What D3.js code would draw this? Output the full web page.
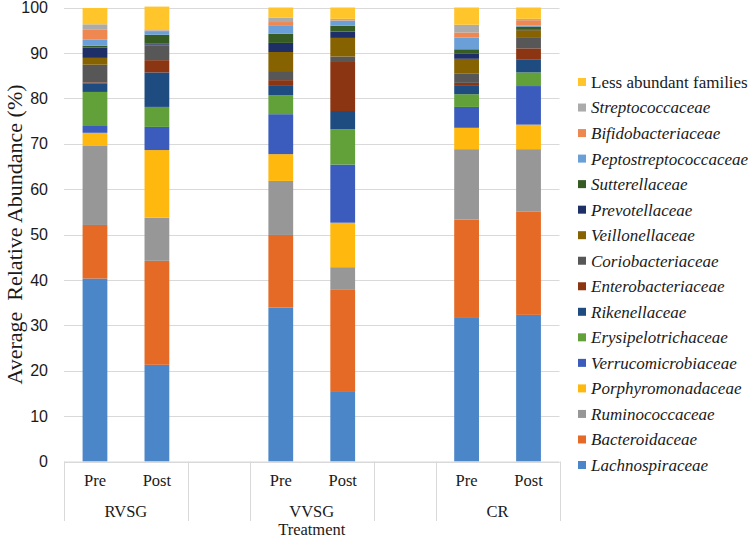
<!DOCTYPE html>
<html>
<head>
<meta charset="utf-8">
<script src="https://cdn.jsdelivr.net/npm/d3@7"></script>
<style>
  body { margin: 0; background: #fff; }
  svg { display: block; }
  .serif { font-family: "Liberation Serif", "Times New Roman", serif; }
  .sans { font-family: "Liberation Sans", Arial, sans-serif; }
</style>
</head>
<body>
<svg width="749" height="540"></svg>
<script>
// families, bottom of the stack first
var families = ['Lachnospiraceae', 'Bacteroidaceae', 'Ruminococcaceae', 'Porphyromonadaceae',
  'Verrucomicrobiaceae', 'Erysipelotrichaceae', 'Rikenellaceae', 'Enterobacteriaceae',
  'Coriobacteriaceae', 'Veillonellaceae', 'Prevotellaceae', 'Sutterellaceae',
  'Peptostreptococcaceae', 'Bifidobacteriaceae', 'Streptococcaceae', 'Less abundant families'];
var colors = ['#4a86c8', '#e46a25', '#979797', '#ffb80e', '#3b5cbc', '#62a03a', '#1f4c80', '#8c3512',
  '#575757', '#866200', '#1d2f66', '#375c23', '#6a9fd8', '#ee8850', '#ababab', '#ffc52a'];

var treatments = ['RVSG', 'VVSG', 'CR'];
var timepoints = ['Pre', 'Post'];

// average relative abundance (%), same order as families
var rvsgPre  = [40.3, 11.8, 17.4, 2.9, 1.5, 7.5, 1.8, 0.3, 3.9, 1.5, 2.3, 0.4, 1.3, 2.3, 1.1, 3.6];
var rvsgPost = [21.3, 22.9, 9.5, 14.9, 5.1, 4.4, 7.6, 2.7, 3.3, 0.1, 0.3, 1.9, 0.6, 0.3, 0.3, 5.0];
var vvsgPre  = [33.9, 16.0, 11.9, 5.9, 8.8, 4.2, 2.2, 1.1, 2.0, 4.2, 2.0, 2.0, 1.9, 0.7, 1.0, 2.2];
var vvsgPost = [15.5, 22.3, 5.0, 9.8, 12.8, 7.8, 4.0, 10.8, 1.2, 4.1, 1.4, 1.3, 1.1, 0.1, 0.3, 2.5];
var crPre    = [31.8, 21.5, 15.5, 4.7, 4.6, 2.8, 2.0, 0.5, 2.1, 3.2, 1.1, 1.0, 2.6, 1.1, 1.7, 3.8];
var crPost   = [32.3, 22.8, 13.7, 5.4, 8.5, 3.0, 2.9, 2.4, 2.3, 1.7, 0.2, 0.6, 0.2, 1.2, 0.3, 2.5];

var yTicks = [0, 10, 20, 30, 40, 50, 60, 70, 80, 90, 100];

var bars = [
  {treatment: 'RVSG', time: 'Pre', values: rvsgPre},
  {treatment: 'RVSG', time: 'Post', values: rvsgPost},
  {treatment: 'VVSG', time: 'Pre', values: vvsgPre},
  {treatment: 'VVSG', time: 'Post', values: vvsgPost},
  {treatment: 'CR', time: 'Pre', values: crPre},
  {treatment: 'CR', time: 'Post', values: crPost}
];

// category slots, with an empty slot between treatments (as in the excel chart)
var slots = [];
treatments.forEach(function(t, i){
  timepoints.forEach(function(p){ slots.push(t + '|' + p); });
  if(i < treatments.length - 1) slots.push('gap' + i);
});

var svg = d3.select('svg');
var plotLeft = 64, plotRight = 559.5, plotTop = 7.5, plotBottom = 461.5;

var x = d3.scaleBand().domain(slots).range([plotLeft, plotRight]).paddingInner(0.6).paddingOuter(0.3);
var y = d3.scaleLinear().domain([0, 100]).range([plotBottom, plotTop]);
var color = d3.scaleOrdinal().domain(families).range(colors);

// gridlines
svg.append('g').selectAll('line')
    .data(yTicks)
  .enter().append('line')
    .attr('x1', plotLeft).attr('x2', plotRight)
    .attr('y1', function(d){ return Math.round(y(d)) + 0.5; })
    .attr('y2', function(d){ return Math.round(y(d)) + 0.5; })
    .attr('stroke', '#d9d9d9');

// y axis labels
var yAxis = svg.append('g')
    .attr('transform', 'translate(' + plotLeft + ',0)')
    .call(d3.axisLeft(y).tickValues(yTicks).tickSize(0).tickPadding(16));
yAxis.select('.domain').remove();
yAxis.selectAll('text')
    .attr('class', 'sans')
    .attr('font-size', '16px')
    .attr('fill', '#1a1a1a');

// stacked bars
var stack = d3.stack().keys(d3.range(families.length)).value(function(d, k){ return d.values[k]; });
var series = stack(bars);

svg.append('g').selectAll('g')
    .data(series)
  .enter().append('g')
    .attr('fill', function(s){ return colors[s.key]; })
  .selectAll('rect')
    .data(function(s){ return s; })
  .enter().append('rect')
    .attr('x', function(d){ return x(d.data.treatment + '|' + d.data.time); })
    .attr('width', x.bandwidth())
    .attr('y', function(d){ return y(d[1]); })
    .attr('height', function(d){ return y(d[0]) - y(d[1]); });

// category axis with two levels
var xAxis = svg.append('g')
    .attr('transform', 'translate(0,' + plotBottom + ')')
    .call(d3.axisBottom(x).tickSize(0).tickPadding(13).tickFormat(function(k){
      return k.indexOf('|') < 0 ? '' : k.split('|')[1];
    }));
xAxis.select('.domain').attr('stroke', '#d9d9d9').attr('d', 'M' + plotLeft + ',0.5H' + plotRight);
xAxis.selectAll('text')
    .attr('class', 'serif')
    .attr('font-size', '16.5px')
    .attr('fill', '#1a1a1a');

var step = x.step();
var separators = [0];
slots.forEach(function(k, i){
  if(k.indexOf('gap') === 0) separators.push(i, i + 1);
});
separators.push(slots.length);

svg.append('g').selectAll('line')
    .data(separators)
  .enter().append('line')
    .attr('x1', function(i){ return Math.round(plotLeft + i*step) + 0.5; })
    .attr('x2', function(i){ return Math.round(plotLeft + i*step) + 0.5; })
    .attr('y1', plotBottom)
    .attr('y2', 521)
    .attr('stroke', '#d9d9d9');

svg.append('g').selectAll('text')
    .data(treatments)
  .enter().append('text')
    .attr('class', 'serif')
    .attr('font-size', '16.5px')
    .attr('fill', '#1a1a1a')
    .attr('text-anchor', 'middle')
    .attr('x', function(t){
      return (x(t + '|Pre') + x(t + '|Post') + x.bandwidth())/2;
    })
    .attr('y', 517)
    .text(function(t){ return t; });

// axis titles
svg.append('text')
    .attr('class', 'serif')
    .attr('font-size', '16.5px')
    .attr('fill', '#1a1a1a')
    .attr('text-anchor', 'middle')
    .attr('x', (plotLeft + plotRight)/2)
    .attr('y', 535)
    .text('Treatment');

svg.append('text')
    .attr('class', 'serif')
    .attr('font-size', '22px')
    .attr('fill', '#1a1a1a')
    .attr('text-anchor', 'middle')
    .style('white-space', 'pre')
    .attr('transform', 'translate(22,' + (plotTop + plotBottom)/2 + ') rotate(-90)')
    .text('Average  Relative Abundance (%)');

// legend, top entry is the top of the stack
var legendY = d3.scalePoint().domain(families.slice().reverse()).range([82, 465]);
var legend = svg.append('g').selectAll('g')
    .data(families)
  .enter().append('g')
    .attr('transform', function(f){ return 'translate(578,' + legendY(f) + ')'; });

legend.append('rect')
    .attr('x', 0).attr('y', -4)
    .attr('width', 8).attr('height', 8)
    .attr('fill', function(f){ return color(f); });

legend.append('text')
    .attr('class', 'serif')
    .attr('x', 13)
    .attr('dy', '0.35em')
    .attr('font-size', '17px')
    .attr('fill', '#1a1a1a')
    .attr('font-style', function(f){ return f === 'Less abundant families' ? 'normal' : 'italic'; })
    .text(function(f){ return f; });
</script>
</body>
</html>
